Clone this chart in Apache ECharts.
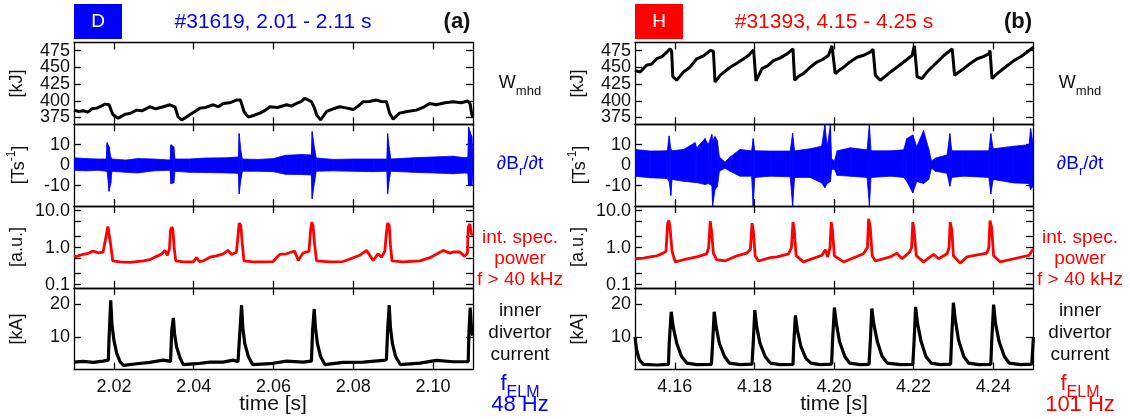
<!DOCTYPE html>
<html>
<head>
<meta charset="utf-8">
<script src="https://cdn.jsdelivr.net/npm/echarts@6/dist/echarts.min.js"></script>
<style>
  html, body { margin: 0; padding: 0; background: #fff; }
  #chart { width: 1130px; height: 419px; }
</style>
</head>
<body>
<div id="chart"></div>
<script>
// time ticks
const timeTicksA = [2.02, 2.04, 2.06, 2.08, 2.10]
const timeTicksB = [4.16, 4.18, 4.20, 4.22, 4.24]

// W_mhd [kJ]
const wmhdA = [[2.0100,386],[2.0112,384],[2.0123,385],[2.0135,383],[2.0145,388],[2.0157,389],[2.0168,392],[2.0178,395],[2.0188,394],[2.0193,386],[2.0198,379],[2.0205,376],[2.0211,374],[2.0220,377],[2.0228,380],[2.0240,381],[2.0257,386],[2.0270,385],[2.0290,391],[2.0305,388],[2.0324,391],[2.0340,394],[2.0353,391],[2.0361,376],[2.0370,371.5],[2.0380,375],[2.0390,379],[2.0403,384],[2.0416,389],[2.0430,390],[2.0449,394],[2.0462,391],[2.0474,396],[2.0490,397],[2.0507,401],[2.0517,401],[2.0522,392],[2.0526,384],[2.0537,375.5],[2.0550,378],[2.0566,381.5],[2.0580,386],[2.0591,391],[2.0610,390],[2.0633,394],[2.0645,392],[2.0658,396],[2.0670,399],[2.0678,403.6],[2.0688,401],[2.0695,398.6],[2.0702,390],[2.0708,379],[2.0718,371.5],[2.0725,377],[2.0733,384],[2.0750,388],[2.0766,391],[2.0785,389],[2.0800,387],[2.0812,392],[2.0825,398.6],[2.0840,399],[2.0858,401],[2.0870,399],[2.0883,398.6],[2.0887,390],[2.0891,381.5],[2.0900,372.5],[2.0908,377],[2.0916,381.5],[2.0935,384],[2.0958,386],[2.0975,390],[2.0991,396],[2.1008,394],[2.1030,397],[2.1050,398.6],[2.1070,397],[2.1087,399.6],[2.1093,395],[2.1097,379],[2.1100,376]]
const wmhdB = [[4.1500,445],[4.1513,443],[4.1529,453],[4.1542,455],[4.1555,463],[4.1568,466],[4.1580,472.5],[4.1588,477.5],[4.1592,474],[4.1595,436],[4.1605,430.7],[4.1612,436],[4.1622,443],[4.1638,450],[4.1655,462.7],[4.1672,467],[4.1689,475],[4.1697,474],[4.1701,428],[4.1714,438],[4.1726,444],[4.1739,450],[4.1756,456],[4.1773,462.7],[4.1786,468],[4.1798,476],[4.1804,429.7],[4.1819,448],[4.1833,452],[4.1848,460],[4.1865,464],[4.1882,470],[4.1897,477.5],[4.1901,430.7],[4.1912,437],[4.1923,440.5],[4.1940,450],[4.1957,457.8],[4.1972,462],[4.1986,467.6],[4.1995,482],[4.2003,440.5],[4.2014,446],[4.2024,450],[4.2040,458],[4.2058,465],[4.2075,468],[4.2091,472.5],[4.2098,477],[4.2104,438],[4.2116,430.7],[4.2128,436],[4.2142,443],[4.2158,450],[4.2175,457.8],[4.2196,467.6],[4.2202,482],[4.2209,435.6],[4.2221,433],[4.2235,444],[4.2251,453],[4.2265,461],[4.2276,467.6],[4.2297,477.5],[4.2303,438],[4.2314,443],[4.2326,448],[4.2343,456],[4.2360,462.7],[4.2375,466],[4.2389,470],[4.2392,475],[4.2397,433],[4.2410,440.5],[4.2430,450],[4.2452,460],[4.2470,466],[4.2485,472.5],[4.2501,480]]

// dBr/dt envelope [t, upper, lower] in T/s
const dbdtA = [[2.0100,3.6,-2.5],[2.0130,3.2,-2.8],[2.0160,3.0,-2.5],[2.0181,3.0,-3],[2.0183,11,-3],[2.0188,9,-12.8],[2.0192,4,-9],[2.0195,3,-3],[2.0230,2.5,-3.5],[2.0260,3.2,-3.8],[2.0300,3.0,-2.8],[2.0341,2.5,-2.5],[2.0343,10,-9],[2.0350,9,-8.7],[2.0353,3,-3],[2.0390,3,-3.5],[2.0430,3.5,-3.6],[2.0480,3.6,-3.8],[2.0512,4,-4],[2.0514,15.4,-14],[2.0519,6,-6],[2.0522,3,-3],[2.0560,2.8,-3],[2.0600,3.2,-3.2],[2.0630,4.8,-4.5],[2.0670,5.2,-4.6],[2.0695,5.0,-4.8],[2.0697,16.4,-16.4],[2.0703,8,-8],[2.0707,3.5,-3],[2.0750,2.8,-2.8],[2.0800,3,-3],[2.0850,3,-3.2],[2.0884,3,-3],[2.0886,15.4,-14],[2.0891,7,-6],[2.0894,3,-3],[2.0950,3.6,-3.5],[2.1000,4,-3.8],[2.1050,4.4,-4.2],[2.1080,3.6,-3.8],[2.1087,4,-4],[2.1089,18.7,-9.8],[2.1097,14,-9.8],[2.1100,3,-3]]
const dbdtB = [[4.1500,7.7,-5.4],[4.1538,6.9,-6.2],[4.1581,7,-6.5],[4.1586,14.3,-8],[4.1590,8,-14.8],[4.1593,7,-7],[4.1622,7.7,-7.9],[4.1651,11,-8.5],[4.1655,8.5,-8.5],[4.1676,13,-9.5],[4.1684,10,-9],[4.1693,15,-10],[4.1695,12,-20],[4.1701,14,-12],[4.1707,12,-10.5],[4.1712,4,-3],[4.1726,1.5,-1.5],[4.1739,4,-3],[4.1764,7.7,-5.4],[4.1793,7,-5.4],[4.1797,13,-20],[4.1801,7,-6],[4.1840,6.9,-5.4],[4.1890,6.9,-5.7],[4.1896,15.6,-20],[4.1901,7,-6],[4.1940,8,-6],[4.1969,9.3,-8.7],[4.1977,20,-11],[4.1983,9,-9],[4.1991,20,-8],[4.1994,3,-2],[4.2001,2,-2],[4.2008,7,-5],[4.2041,8.5,-5.4],[4.2083,7.5,-6],[4.2089,20,-19.7],[4.2093,7,-6],[4.2142,7,-5.4],[4.2175,7.5,-6],[4.2183,13,-8],[4.2198,14.8,-13.6],[4.2208,9,-8],[4.2225,17,-9],[4.2238,8,-7],[4.2245,2,-1.5],[4.2255,3.5,-3],[4.2284,5,-4],[4.2291,15.4,-10.3],[4.2296,7,-6],[4.2326,7,-5.4],[4.2389,7,-6],[4.2394,15.4,-14],[4.2400,8,-7],[4.2452,9.3,-8.7],[4.2490,10,-9],[4.2494,17.9,-12],[4.2501,10,-10]]

// integrated spectral power f > 40 kHz [a.u.]
const specA = [[2.0100,0.56],[2.0111,0.60],[2.0123,0.66],[2.0136,0.70],[2.0148,0.81],[2.0161,0.72],[2.0173,0.76],[2.0178,0.85],[2.0182,2.5],[2.0185,3.7],[2.0188,3.3],[2.0192,1.2],[2.0197,0.44],[2.0215,0.41],[2.0240,0.40],[2.0257,0.42],[2.0274,0.44],[2.0290,0.47],[2.0307,0.58],[2.0319,0.66],[2.0328,0.84],[2.0334,0.62],[2.0339,0.9],[2.0342,3.0],[2.0345,3.57],[2.0348,3.0],[2.0351,1.0],[2.0355,0.44],[2.0374,0.41],[2.0399,0.41],[2.0407,0.535],[2.0414,0.42],[2.0424,0.44],[2.0441,0.55],[2.0457,0.6],[2.0474,0.68],[2.0486,0.84],[2.0495,0.65],[2.0507,0.75],[2.0511,2.0],[2.0514,4.56],[2.0518,4.0],[2.0522,1.2],[2.0526,0.44],[2.0549,0.41],[2.0574,0.41],[2.0599,0.42],[2.0616,0.66],[2.0633,0.68],[2.0653,0.81],[2.0662,0.45],[2.0674,0.71],[2.0689,0.8],[2.0693,3.0],[2.0696,4.86],[2.0699,4.0],[2.0703,1.2],[2.0708,0.44],[2.0741,0.41],[2.0774,0.42],[2.0787,0.47],[2.0816,0.62],[2.0833,0.84],[2.0850,0.45],[2.0862,0.68],[2.0871,0.55],[2.0879,0.8],[2.0883,2.5],[2.0886,4.56],[2.0890,4.0],[2.0893,1.2],[2.0897,0.44],[2.0925,0.41],[2.0967,0.44],[2.0992,0.535],[2.1025,0.84],[2.1042,0.71],[2.1050,0.76],[2.1067,0.76],[2.1079,0.58],[2.1086,0.7],[2.1088,3.5],[2.1092,4.38],[2.1096,2.36],[2.1100,2.2]]
const specB = [[4.1500,0.50],[4.1521,0.52],[4.1538,0.56],[4.1555,0.6],[4.1571,0.71],[4.1578,0.8],[4.1582,4.5],[4.1585,5.38],[4.1588,3.5],[4.1593,0.8],[4.1601,0.41],[4.1622,0.47],[4.1655,0.56],[4.1680,0.68],[4.1685,1.0],[4.1689,5.16],[4.1692,3.0],[4.1697,0.7],[4.1705,0.47],[4.1726,0.435],[4.1756,0.6],[4.1781,0.71],[4.1790,0.9],[4.1794,4.56],[4.1797,3.0],[4.1802,0.6],[4.1810,0.435],[4.1840,0.535],[4.1857,0.56],[4.1886,0.68],[4.1893,1.0],[4.1897,4.86],[4.1900,3.0],[4.1905,0.6],[4.1923,0.41],[4.1970,0.62],[4.1978,0.88],[4.1984,0.56],[4.1990,1.0],[4.1993,4.86],[4.1996,3.0],[4.2001,0.6],[4.2024,0.41],[4.2074,0.68],[4.2084,1.0],[4.2087,5.97],[4.2091,3.5],[4.2096,0.6],[4.2104,0.435],[4.2141,0.56],[4.2158,0.71],[4.2171,0.5],[4.2190,0.76],[4.2195,1.0],[4.2198,4.86],[4.2201,3.0],[4.2207,0.6],[4.2225,0.41],[4.2250,0.66],[4.2263,0.5],[4.2284,0.68],[4.2289,1.0],[4.2292,4.86],[4.2296,3.0],[4.2300,0.6],[4.2317,0.38],[4.2334,0.56],[4.2384,0.71],[4.2389,1.0],[4.2392,5.38],[4.2396,3.5],[4.2401,0.6],[4.2418,0.41],[4.2452,0.5],[4.2490,0.62],[4.2501,0.93]]

// inner divertor current [kA]
const currA = [[2.0100,2.3],[2.0123,2.5],[2.0148,2.2],[2.0173,2.6],[2.0186,2.9],[2.0188,10],[2.0192,21.2],[2.0195,14],[2.0200,9],[2.0207,5],[2.0215,2.5],[2.0224,1.3],[2.0257,1.8],[2.0290,2.2],[2.0324,2.9],[2.0342,2.5],[2.0345,12],[2.0349,15.8],[2.0352,11],[2.0357,7],[2.0366,3.5],[2.0374,1.5],[2.0407,1.8],[2.0441,2.3],[2.0474,2.3],[2.0499,2.9],[2.0511,2.4],[2.0516,12],[2.0520,19.7],[2.0523,13],[2.0528,8],[2.0537,4],[2.0548,1.5],[2.0591,1.8],[2.0633,2.6],[2.0674,2.3],[2.0695,2.6],[2.0698,12],[2.0702,18.5],[2.0705,13],[2.0710,8],[2.0718,4],[2.0729,1.5],[2.0774,2.2],[2.0825,2.3],[2.0875,2.8],[2.0883,3],[2.0886,12],[2.0890,19.7],[2.0893,13],[2.0898,8],[2.0906,4],[2.0918,1.5],[2.0967,2.0],[2.1008,2.8],[2.1050,2.4],[2.1088,2.4],[2.1090,12],[2.1093,19],[2.1097,11],[2.1100,10.5]]
const currB = [[4.1500,10],[4.1504,6],[4.1511,3],[4.1521,1.6],[4.1555,1.4],[4.1584,1.6],[4.1586,8],[4.1591,17.7],[4.1596,13],[4.1605,8],[4.1617,4],[4.1630,2],[4.1655,1.5],[4.1692,1.6],[4.1695,8],[4.1699,17.7],[4.1704,13],[4.1712,8],[4.1725,4],[4.1737,2],[4.1764,1.5],[4.1794,1.7],[4.1797,8],[4.1801,18.2],[4.1806,13],[4.1814,8],[4.1827,4],[4.1840,2],[4.1865,1.5],[4.1897,1.6],[4.1899,8],[4.1903,16.6],[4.1908,12],[4.1917,7],[4.1929,3.5],[4.1942,2],[4.1965,1.5],[4.1994,1.7],[4.1996,8],[4.2001,19],[4.2006,14],[4.2014,8.5],[4.2027,4],[4.2039,2],[4.2066,1.5],[4.2088,1.6],[4.2091,8],[4.2095,18.7],[4.2100,14],[4.2109,8.5],[4.2121,4],[4.2134,2],[4.2167,1.5],[4.2198,1.6],[4.2201,8],[4.2205,19.2],[4.2210,14],[4.2219,8.5],[4.2231,4],[4.2244,2],[4.2267,1.5],[4.2293,1.7],[4.2295,8],[4.2300,20.5],[4.2305,15],[4.2313,9],[4.2326,4],[4.2338,2],[4.2364,1.5],[4.2394,1.6],[4.2396,8],[4.2401,19.9],[4.2406,14],[4.2415,8.5],[4.2428,4],[4.2440,2],[4.2469,1.5],[4.2497,1.7],[4.2501,10]]

// y tick values
const wTicks = [375, 400, 425, 450, 475]
const bTicks = [-10, 0, 10]
const specLabelTicks = [0.1, 1, 10]
const specMinorTicks = [0.2, 0.5, 2, 5]
const currTicks = [10, 20]

const FONT = '"Liberation Sans", Arial, sans-serif'
const BLUE = '#0000ff'
const RED = '#ff0000'

const panels = [
  { left: 74, width: 399, tmin: 2.01, tmax: 2.11, ticks: timeTicksA, tag: 'D', color: BLUE,
    title: '#31619, 2.01 - 2.11 s', idx: '(a)', freq: '48 Hz',
    wmhd: wmhdA, dbdt: dbdtA, spec: specA, curr: currA },
  { left: 635, width: 398, tmin: 4.15, tmax: 4.25, ticks: timeTicksB, tag: 'H', color: RED,
    title: '#31393, 4.15 - 4.25 s', idx: '(b)', freq: '101 Hz',
    wmhd: wmhdB, dbdt: dbdtB, spec: specB, curr: currB }
]

const rowTops = [42.5, 124.3, 206.1, 287.9]
const rowHeight = 81.7
const log10 = v => Math.log10(v)
const rows = [
  { min: 365, max: 487, labels: wTicks, ticks: wTicks, fmt: v => String(v) },
  { min: -20, max: 20, labels: bTicks, ticks: bTicks, fmt: v => String(v) },
  { min: -1.086, max: 1.121, labels: specLabelTicks.map(log10),
    ticks: specLabelTicks.concat(specMinorTicks).map(log10), fmt: v => Math.pow(10, v).toFixed(1) },
  { min: 0, max: 25, labels: currTicks, ticks: currTicks, fmt: v => String(v) }
]

const lineCol = { color: '#000', width: 1.3 }
let grid = [], xAxis = [], yAxis = [], series = [], graphic = []

// band polygon piece between two consecutive envelope samples
function bandItem(params, api) {
  const a = api.coord([api.value(0), api.value(1)])
  const b = api.coord([api.value(3), api.value(4)])
  const c = api.coord([api.value(3), api.value(5)])
  const d = api.coord([api.value(0), api.value(2)])
  return {
    type: 'polygon',
    shape: { points: [a, b, c, d] },
    style: { fill: BLUE, stroke: BLUE, lineWidth: 0.8 }
  }
}

panels.forEach((p, pi) => {
  rows.forEach((r, ri) => {
    const g = pi * 4 + ri
    grid.push({ left: p.left, width: p.width, top: rowTops[ri], height: rowHeight })
    ;['bottom', 'top'].forEach(pos => {
      xAxis.push({
        gridIndex: g, type: 'value', min: p.tmin, max: p.tmax, position: pos,
        axisLine: { show: true, onZero: false, lineStyle: lineCol },
        axisTick: { show: true, inside: true, length: 7, customValues: p.ticks, lineStyle: lineCol },
        axisLabel: {
          show: pos === 'bottom' && ri === 3, customValues: p.ticks, margin: 8,
          showMinLabel: true, showMaxLabel: true,
          formatter: v => v.toFixed(2), fontSize: 18, color: '#111', fontFamily: FONT
        },
        splitLine: { show: false }
      })
    })
    // left axis (line, ticks, even labels), right mirror axis, and a second
    // left axis carrying the odd labels so that tight labels are never dropped
    const evenLab = r.labels.filter((v, i) => i % 2 === 0)
    const oddLab = r.labels.filter((v, i) => i % 2 === 1)
    ;[['left', true, evenLab], ['right', true, []], ['left', false, oddLab]].forEach(([pos, drawLine, labs]) => {
      yAxis.push({
        gridIndex: g, type: 'value', min: r.min, max: r.max, position: pos,
        axisLine: { show: drawLine, onZero: false, lineStyle: lineCol },
        axisTick: { show: drawLine, inside: true, length: 7, customValues: r.ticks, lineStyle: lineCol },
        axisLabel: {
          show: labs.length > 0, customValues: labs.length ? labs : r.labels, margin: 4,
          showMinLabel: true, showMaxLabel: true,
          formatter: r.fmt, fontSize: 18, color: '#111', fontFamily: FONT
        },
        splitLine: { show: false }
      })
    })
  })

  const g0 = pi * 4
  const yi = k => (g0 + k) * 3
  const base = { type: 'line', symbol: 'none', animation: false }
  series.push(Object.assign({}, base, {
    xAxisIndex: g0 * 2, yAxisIndex: yi(0), data: p.wmhd,
    lineStyle: { color: '#000', width: 3 }
  }))
  // dB/dt drawn as a filled band between lower and upper envelope
  const segs = []
  for (let i = 0; i < p.dbdt.length - 1; i++) {
    const s = p.dbdt[i], e = p.dbdt[i + 1]
    segs.push([s[0], s[1], s[2], e[0], e[1], e[2]])
  }
  series.push({
    type: 'custom', xAxisIndex: (g0 + 1) * 2, yAxisIndex: yi(1),
    data: segs, renderItem: bandItem, clip: true, animation: false,
    encode: { x: [0, 3], y: [1, 2, 4, 5] }
  })
  series.push(Object.assign({}, base, {
    xAxisIndex: (g0 + 2) * 2, yAxisIndex: yi(2), data: p.spec.map(d => [d[0], log10(d[1])]),
    lineStyle: { color: RED, width: 2.8 }
  }))
  series.push(Object.assign({}, base, {
    xAxisIndex: (g0 + 3) * 2, yAxisIndex: yi(3), data: p.curr,
    lineStyle: { color: '#000', width: 3.2 }
  }))

  const L = p.left, R = p.left + p.width
  const txt = (x, y, text, size, fill, extra) => Object.assign({
    type: 'text', x: x, y: y, silent: true,
    style: Object.assign({
      text: text, fill: fill, font: size + 'px ' + FONT,
      align: 'center', verticalAlign: 'middle', textAlign: 'center', textVerticalAlign: 'middle'
    }, extra || {})
  })
  // header
  graphic.push({ type: 'rect', shape: { x: L, y: 4, width: 48, height: 35 }, style: { fill: p.color } })
  graphic.push(txt(L + 24, 22, p.tag, 19, '#fff'))
  graphic.push(txt(L + 199, 22, p.title, 21, p.color))
  graphic.push(txt(L + 383, 22, p.idx, 22, '#111', { font: 'bold 22px ' + FONT }))
  // y axis units (rotated)
  const rot = (y, text, rich) => ({
    type: 'text', x: L - 57, y: y, rotation: Math.PI / 2, silent: true,
    style: { text: text, rich: rich, fill: '#111', font: '18px ' + FONT,
      align: 'center', verticalAlign: 'middle', textAlign: 'center', textVerticalAlign: 'middle' }
  })
  graphic.push(rot(83.5, '[kJ]'))
  graphic.push(rot(165, '{n|[Ts}{p|-1}{n|]}', {
    n: { fontSize: 18, fontFamily: FONT, fill: '#111', lineHeight: 22, verticalAlign: 'bottom' },
    p: { fontSize: 12, fontFamily: FONT, fill: '#111', lineHeight: 22, verticalAlign: 'top' }
  }))
  graphic.push(rot(247, '[a.u.]'))
  graphic.push(rot(329, '[kA]'))
  // right-hand labels
  const cx = R + 47
  graphic.push(txt(cx, 86, '{m|W}{s|mhd}', 17, '#111', { rich: {
    m: { fontSize: 18, fontFamily: FONT, fill: '#111', lineHeight: 24, verticalAlign: 'top' },
    s: { fontSize: 13, fontFamily: FONT, fill: '#111', lineHeight: 24, verticalAlign: 'bottom' }
  } }))
  graphic.push(txt(cx, 166, '{m|∂B}{s|r}{m|/∂t}', 19, BLUE, { rich: {
    m: { fontSize: 19, fontFamily: FONT, fill: BLUE, lineHeight: 24, verticalAlign: 'top' },
    s: { fontSize: 13, fontFamily: FONT, fill: BLUE, lineHeight: 24, verticalAlign: 'bottom' }
  } }))
  graphic.push(txt(cx, 238, 'int. spec.', 19, RED))
  graphic.push(txt(cx, 259, 'power', 19, RED))
  graphic.push(txt(cx, 280, 'f > 40 kHz', 19, RED))
  graphic.push(txt(cx, 311, 'inner', 19, '#111'))
  graphic.push(txt(cx, 333, 'divertor', 19, '#111'))
  graphic.push(txt(cx, 355, 'current', 19, '#111'))
  graphic.push(txt(cx, 387, '{m|f}{s|ELM}', 21, p.color, { rich: {
    m: { fontSize: 22, fontFamily: FONT, fill: p.color, lineHeight: 28, verticalAlign: 'top' },
    s: { fontSize: 16, fontFamily: FONT, fill: p.color, lineHeight: 28, verticalAlign: 'bottom' }
  } }))
  graphic.push(txt(cx, 405, p.freq, 22, p.color))
  // time axis title
  graphic.push(txt(L + 199, 404, 'time [s]', 21, '#111'))
})

const chart = echarts.init(document.getElementById('chart'))
chart.setOption({
  animation: false,
  backgroundColor: '#ffffff',
  grid: grid,
  xAxis: xAxis,
  yAxis: yAxis,
  series: series,
  graphic: graphic
})
</script>
</body>
</html>
